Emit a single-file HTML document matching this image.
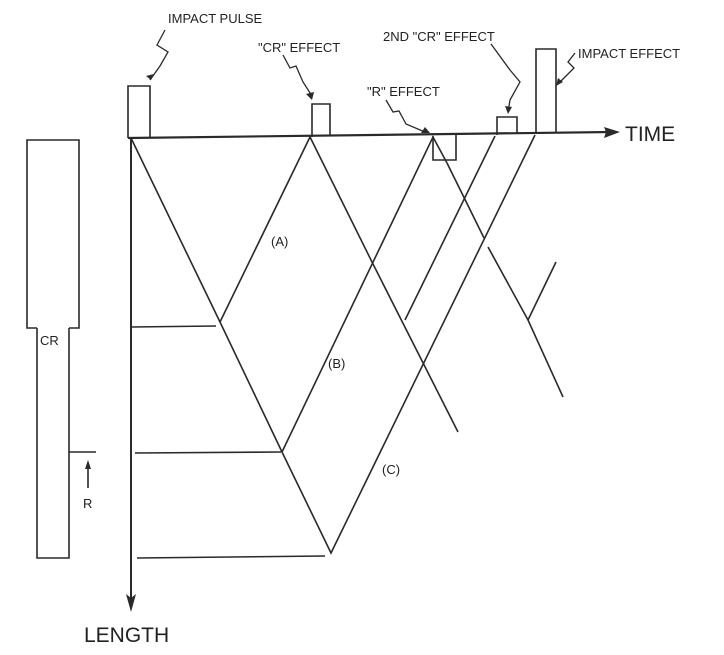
<!DOCTYPE html>
<html><head><style>
html,body{margin:0;padding:0;background:#fff;}
svg{display:block;}
text{font-family:"Liberation Sans",sans-serif;fill:#222;}
.s{font-size:13px;}
</style></head><body>
<svg width="724" height="655" viewBox="0 0 724 655" xmlns="http://www.w3.org/2000/svg">
<rect x="0" y="0" width="724" height="655" fill="#fff"/>
<g stroke="#2a2a2a" stroke-width="1.6" fill="none" stroke-linejoin="miter">
<!-- left bar -->
<polyline points="37,328 27,328 27,140 79,140 79,328 69,328"/>
<polyline points="37,328 37,558 69,558 69,328"/>
<line x1="69" y1="452" x2="96" y2="452"/>
<line x1="88" y1="488" x2="88" y2="466"/>
<!-- axes -->
<line x1="128" y1="138" x2="612" y2="132" stroke-width="2.2"/>
<line x1="131" y1="138" x2="131" y2="605" stroke-width="2"/>
<!-- pulses -->
<polyline points="128,138 128,86 150,86 150,137"/>
<polyline points="312,137 312,104 330,104 330,136"/>
<polyline points="433,136 433,160 456,160 456,135"/>
<polyline points="497,135 497,117 517,117 517,134"/>
<polyline points="536,134 536,49 556,49 556,133"/>
<!-- horizontal lines -->
<line x1="131" y1="327" x2="216" y2="326"/>
<line x1="135" y1="453" x2="281" y2="452"/>
<line x1="137" y1="558" x2="325" y2="556"/>
<!-- diagonals -->
<polyline points="131,138 220,322 282,452 331,553 535,135"/>
<polyline points="220,322 310,137 372,262 458,432"/>
<polyline points="282,452 433,137 447,163"/>
<line x1="405" y1="320" x2="495" y2="136"/>
<line x1="447" y1="163" x2="484" y2="238"/>
<polyline points="488,247 528,320 563,397"/>
<line x1="528" y1="320" x2="556" y2="262"/>
<!-- leaders -->
<polyline points="165,30 157,45 168,52 160,66 150,80" stroke-width="1.3"/>
<polyline points="283,55 290,68 296,66 303,82 312,96" stroke-width="1.3"/>
<polyline points="386,100 393,112 399,111 406,124 425,132" stroke-width="1.3"/>
<polyline points="491,44 510,70 520,82 510,100 508,112" stroke-width="1.3"/>
<polyline points="575,53 568,62 574,68 566,76 558,84" stroke-width="1.3"/>
</g>
<g fill="#2a2a2a">
<polygon points="620,132 604,127 606,132 604,138"/>
<polygon points="131,612 126,594 131,598 136,594"/>
<polygon points="88,460 85,469 91,469"/>
<polygon points="151,80 146,76 154,74"/>
<polygon points="312,100 306,94 314,92"/>
<polygon points="430,133 421,133 425,127"/>
<polygon points="508,114 505,106 512,107"/>
<polygon points="556,86 558,78 563,82"/>
</g>
<text class="s" x="168" y="23">IMPACT PULSE</text>
<text class="s" x="258" y="52">"CR" EFFECT</text>
<text class="s" x="383" y="41">2ND "CR" EFFECT</text>
<text class="s" x="367" y="96">"R" EFFECT</text>
<text class="s" x="578" y="58">IMPACT EFFECT</text>
<text x="625" y="141" style="font-size:21px">TIME</text>
<text x="84" y="642" style="font-size:21px">LENGTH</text>
<text class="s" x="40" y="345">CR</text>
<text class="s" x="83" y="508">R</text>
<text class="s" x="271" y="246">(A)</text>
<text class="s" x="328" y="368">(B)</text>
<text class="s" x="382" y="474">(C)</text>
</svg>
</body></html>
